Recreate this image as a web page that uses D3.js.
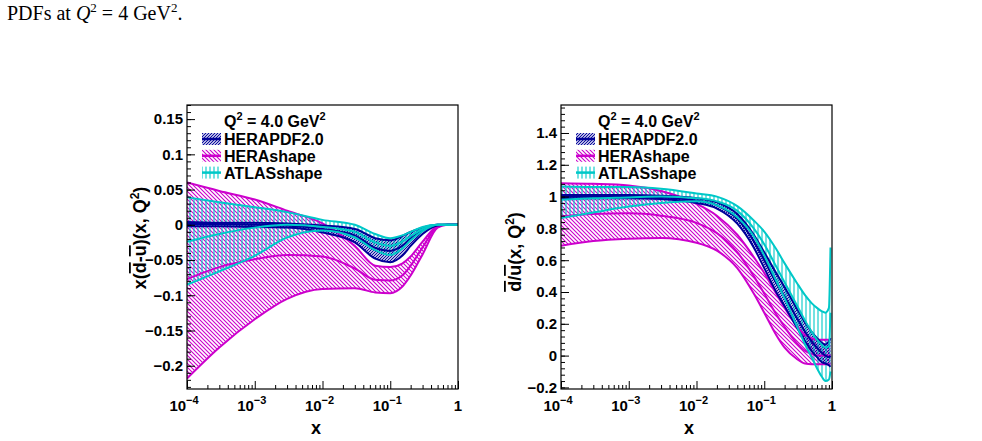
<!DOCTYPE html>
<html>
<head>
<meta charset="utf-8">
<script src="https://cdn.jsdelivr.net/npm/d3@7"></script>
<style>
  body { margin: 0; background: #fff; }
  svg { display: block; }
  text { font-family: "Liberation Sans", Arial, sans-serif; font-weight: bold; fill: #000; }
  .cap { font-family: "Liberation Serif", "Times New Roman", serif; font-weight: normal; }
</style>
</head>
<body>
<svg id="fig" width="982" height="441"></svg>
<script>
// ---- data ----
const legendLabels = ['HERAPDF2.0', 'HERAshape', 'ATLASshape'];
const decadeTicks = [1e-4, 1e-3, 1e-2, 1e-1, 1];
const decadeLabels = [['10', '\u22124'], ['10', '\u22123'], ['10', '\u22122'], ['10', '\u22121'], ['1', '']];

// left panel: x(dbar - ubar)
const xLeft = [1e-4, 3e-4, 1e-3, 3e-3, 1e-2, 3e-2, 0.06, 0.1, 0.15, 0.2, 0.3, 0.5, 0.7, 1];
const h20UpLeft  = [0.004, 0.003, 0.003, 0.002, -0.001, -0.006, -0.019, -0.022, -0.016, -0.010, -0.004, 0, 0, 0];
const h20CenLeft = [0.001, 0.001, 0.000, -0.001, -0.006, -0.015, -0.033, -0.037, -0.030, -0.020, -0.008, 0, 0, 0];
const h20LoLeft  = [-0.002, -0.002, -0.003, -0.004, -0.011, -0.025, -0.048, -0.053, -0.044, -0.030, -0.013, -0.001, 0, 0];
const hsUpLeft   = [0.060, 0.048, 0.036, 0.020, 0.002, -0.030, -0.058, -0.060, -0.055, -0.045, -0.024, -0.002, 0, 0];
const hsCenLeft  = [-0.077, -0.060, -0.049, -0.043, -0.045, -0.062, -0.078, -0.079, -0.072, -0.058, -0.032, -0.003, 0, 0];
const hsLoLeft   = [-0.218, -0.174, -0.134, -0.105, -0.091, -0.090, -0.096, -0.097, -0.088, -0.072, -0.042, -0.004, 0, 0];
const asUpLeft   = [0.039, 0.032, 0.025, 0.018, 0.007, 0.000, -0.013, -0.019, -0.015, -0.010, -0.003, 0, 0, 0];
const asCenLeft  = [-0.024, -0.013, -0.004, 0.000, -0.003, -0.010, -0.025, -0.030, -0.024, -0.016, -0.006, 0, 0, 0];
const asLoLeft   = [-0.085, -0.066, -0.044, -0.018, -0.008, -0.018, -0.036, -0.043, -0.034, -0.022, -0.009, 0, 0, 0];
const yTicksLeft = [-0.2, -0.15, -0.1, -0.05, 0, 0.05, 0.1, 0.15];

// right panel: dbar / ubar
const xRight = [1e-4, 3e-4, 1e-3, 3e-3, 1e-2, 2e-2, 0.04, 0.07, 0.1, 0.15, 0.2, 0.3, 0.4, 0.5, 0.6, 0.7, 0.8, 0.9, 0.95];
const h20UpRight  = [1.01, 1.01, 1.01, 1.005, 0.99, 0.965, 0.89, 0.76, 0.65, 0.52, 0.43, 0.30, 0.21, 0.15, 0.11, 0.08, 0.07, 0.09, 0.11];
const h20CenRight = [1.00, 1.00, 1.00, 0.995, 0.975, 0.945, 0.86, 0.72, 0.60, 0.46, 0.37, 0.24, 0.15, 0.09, 0.05, 0.02, 0.00, -0.01, 0.00];
const h20LoRight  = [0.99, 0.99, 0.99, 0.985, 0.96, 0.925, 0.83, 0.68, 0.55, 0.40, 0.31, 0.18, 0.09, 0.03, -0.01, -0.04, -0.05, -0.06, -0.07];
const hsUpRight   = [1.084, 1.08, 1.07, 1.035, 0.955, 0.88, 0.76, 0.62, 0.52, 0.39, 0.30, 0.19, 0.13, 0.11, 0.10, 0.10, 0.10, 0.10, 0.10];
const hsCenRight  = [0.875, 0.89, 0.895, 0.88, 0.835, 0.77, 0.65, 0.50, 0.39, 0.26, 0.18, 0.08, 0.03, 0.01, 0.00, 0.00, 0.00, 0.00, 0.00];
const hsLoRight   = [0.69, 0.72, 0.735, 0.74, 0.71, 0.66, 0.55, 0.39, 0.27, 0.13, 0.05, -0.02, -0.05, -0.055, -0.055, -0.055, -0.055, -0.055, -0.055];
const asUpRight   = [1.063, 1.06, 1.06, 1.05, 1.02, 1.00, 0.94, 0.85, 0.78, 0.67, 0.58, 0.46, 0.38, 0.33, 0.30, 0.28, 0.27, 0.30, 0.68];
const asCenRight  = [0.98, 0.99, 0.995, 1.0, 0.99, 0.97, 0.91, 0.80, 0.70, 0.56, 0.46, 0.32, 0.22, 0.15, 0.10, 0.07, 0.05, 0.06, 0.27];
const asLoRight   = [0.866, 0.90, 0.937, 0.96, 0.97, 0.945, 0.87, 0.75, 0.63, 0.47, 0.36, 0.19, 0.07, -0.01, -0.08, -0.13, -0.16, -0.15, -0.10];
const yTicksRight = [-0.2, 0, 0.2, 0.4, 0.6, 0.8, 1, 1.2, 1.4];

const colors = { h20: '#000099', hs: '#cc00cc', as: '#00c8c8' };

const svg = d3.select('#fig');

// hatch patterns (ROOT style fills)
const defs = svg.append('defs');
function hatch(id, color, size, d) {
  defs.append('pattern')
    .attr('id', id)
    .attr('patternUnits', 'userSpaceOnUse')
    .attr('width', size)
    .attr('height', size)
    .append('path')
    .attr('d', d)
    .attr('stroke', color)
    .attr('stroke-width', 1.1)
    .attr('fill', 'none');
}
hatch('hatchH20', colors.h20, 3, 'M-1,1 L1,-1 M0,3 L3,0 M2,4 L4,2');
hatch('hatchHS', colors.hs, 4, 'M0,0 L4,4 M-1,3 L1,5 M3,-1 L5,1');
hatch('hatchAS', colors.as, 4, 'M2,0 L2,4');

// caption
const cap = svg.append('text').attr('class', 'cap').attr('x', 7).attr('y', 20).style('font-size', '20px');
cap.append('tspan').text('PDFs at ');
cap.append('tspan').style('font-style', 'italic').text('Q');
cap.append('tspan').attr('dy', -8).style('font-size', '13px').text('2');
cap.append('tspan').attr('dy', 8).text(' = 4 GeV');
cap.append('tspan').attr('dy', -8).style('font-size', '13px').text('2');
cap.append('tspan').attr('dy', 8).text('.');

function drawPanel(cfg) {
  const x = d3.scaleLog().domain([1e-4, 1]).range([cfg.left, cfg.right]);
  const y = d3.scaleLinear().domain(cfg.yDomain).range([cfg.bottom, cfg.top]);
  const g = svg.append('g');

  const clipId = 'clip' + cfg.id;
  defs.append('clipPath').attr('id', clipId)
    .append('rect')
    .attr('x', cfg.left).attr('y', cfg.top)
    .attr('width', cfg.right - cfg.left).attr('height', cfg.bottom - cfg.top);

  const plot = g.append('g').attr('clip-path', `url(#${clipId})`);

  const area = d3.area()
    .x(d => x(d.x)).y0(d => y(d.lo)).y1(d => y(d.hi))
    .curve(d3.curveMonotoneX);
  const line = d3.line()
    .x(d => x(d.x)).y(d => y(d.v))
    .curve(d3.curveMonotoneX);

  // bands drawn magenta first, then blue, then cyan on top
  const drawOrder = [1, 0, 2];
  drawOrder.forEach(k => {
    const s = cfg.series[k];
    const band = cfg.xs.map((xv, i) => ({ x: xv, lo: s.lo[i], hi: s.up[i] }));
    plot.append('path')
      .datum(band)
      .attr('d', area)
      .attr('fill', `url(#${s.pattern})`)
      .attr('stroke', 'none');
  });
  drawOrder.forEach(k => {
    const s = cfg.series[k];
    [s.up, s.cen, s.lo].forEach(arr => {
      plot.append('path')
        .datum(cfg.xs.map((xv, i) => ({ x: xv, v: arr[i] })))
        .attr('d', line)
        .attr('fill', 'none')
        .attr('stroke', s.color)
        .attr('stroke-width', 2);
    });
  });

  // x axis ticks (inside the frame)
  const minorX = [];
  for (let e = -4; e < 0; e++) for (let m = 2; m <= 9; m++) minorX.push(m * Math.pow(10, e));
  g.append('g')
    .attr('transform', `translate(0,${cfg.bottom})`)
    .call(d3.axisBottom(x).tickValues(minorX).tickSize(-4).tickFormat(''))
    .call(a => a.select('.domain').remove());
  g.append('g')
    .attr('transform', `translate(0,${cfg.bottom})`)
    .call(d3.axisBottom(x).tickValues(decadeTicks).tickSize(-8).tickFormat(''))
    .call(a => a.select('.domain').remove());

  decadeTicks.forEach((t, i) => {
    const lab = g.append('text')
      .attr('x', x(t) + (i === 4 ? 0 : -3))
      .attr('y', cfg.bottom + 22)
      .attr('text-anchor', 'middle')
      .style('font-size', '15px');
    lab.append('tspan').text(decadeLabels[i][0]);
    if (decadeLabels[i][1]) {
      lab.append('tspan').attr('dy', -7).style('font-size', '11px').text(decadeLabels[i][1]);
    }
  });

  // y axis ticks
  const yMinor = d3.range(cfg.yDomain[0], cfg.yDomain[1], cfg.yMinorStep)
    .map(v => Math.round(v / cfg.yMinorStep) * cfg.yMinorStep)
    .filter(v => v >= cfg.yDomain[0] && v <= cfg.yDomain[1]);
  g.append('g')
    .attr('transform', `translate(${cfg.left},0)`)
    .call(d3.axisLeft(y).tickValues(yMinor).tickSize(-4).tickFormat(''))
    .call(a => a.select('.domain').remove());
  g.append('g')
    .attr('transform', `translate(${cfg.left},0)`)
    .call(d3.axisLeft(y).tickValues(cfg.yTicks).tickSize(-8).tickPadding(4)
      .tickFormat(v => (v < 0 ? '\u2212' : '') + d3.format('~g')(Math.abs(v))))
    .call(a => a.select('.domain').remove())
    .call(a => a.selectAll('text').style('font-size', '15px').style('font-family', '"Liberation Sans", Arial, sans-serif').style('font-weight', 'bold'));
  g.selectAll('.tick line').attr('stroke', '#000');

  // frame
  g.append('rect')
    .attr('x', cfg.left).attr('y', cfg.top)
    .attr('width', cfg.right - cfg.left).attr('height', cfg.bottom - cfg.top)
    .attr('fill', 'none').attr('stroke', '#000').attr('stroke-width', 1.2);

  // axis titles
  g.append('text')
    .attr('x', cfg.xTitleX).attr('y', 434)
    .attr('text-anchor', 'middle')
    .style('font-size', '18px')
    .text('x');

  const yt = g.append('text')
    .attr('transform', `translate(${cfg.yTitleX},${cfg.yTitleY}) rotate(-90)`)
    .attr('text-anchor', 'middle')
    .style('font-size', '18px');
  cfg.yTitle(yt);

  // legend
  const lg = g.append('g');
  const qt = lg.append('text').attr('x', cfg.legX).attr('y', 127).style('font-size', '16px');
  qt.append('tspan').text('Q');
  qt.append('tspan').attr('dy', -7).style('font-size', '11px').text('2');
  qt.append('tspan').attr('dy', 7).text(' = 4.0 GeV');
  qt.append('tspan').attr('dy', -7).style('font-size', '11px').text('2');

  cfg.series.forEach((s, i) => {
    const cy = 139 + i * 16.8;
    lg.append('rect')
      .attr('x', cfg.legX - 22).attr('y', cy - 6)
      .attr('width', 19).attr('height', 12)
      .attr('fill', `url(#${s.pattern})`);
    lg.append('line')
      .attr('x1', cfg.legX - 22).attr('x2', cfg.legX - 3)
      .attr('y1', cy).attr('y2', cy)
      .attr('stroke', s.color).attr('stroke-width', 2.5);
    lg.append('text')
      .attr('x', cfg.legX).attr('y', cy + 6)
      .style('font-size', '16px')
      .text(legendLabels[i]);
  });
}

drawPanel({
  id: 'L', left: 187, right: 458, top: 105, bottom: 389,
  yDomain: [-0.233, 0.170], yTicks: yTicksLeft, yMinorStep: 0.01,
  xs: xLeft,
  series: [
    { up: h20UpLeft, cen: h20CenLeft, lo: h20LoLeft, color: colors.h20, pattern: 'hatchH20' },
    { up: hsUpLeft, cen: hsCenLeft, lo: hsLoLeft, color: colors.hs, pattern: 'hatchHS' },
    { up: asUpLeft, cen: asCenLeft, lo: asLoLeft, color: colors.as, pattern: 'hatchAS' }
  ],
  legX: 224, xTitleX: 316, yTitleX: 146, yTitleY: 238,
  yTitle: t => {
    t.append('tspan').text('x(');
    t.append('tspan').style('text-decoration', 'overline').text('d');
    t.append('tspan').text('-');
    t.append('tspan').style('text-decoration', 'overline').text('u');
    t.append('tspan').text(')(x, Q');
    t.append('tspan').attr('dy', -7).style('font-size', '12px').text('2');
    t.append('tspan').attr('dy', 7).text(')');
  }
});

drawPanel({
  id: 'R', left: 561, right: 832, top: 105, bottom: 389,
  yDomain: [-0.21, 1.576], yTicks: yTicksRight, yMinorStep: 0.04,
  xs: xRight,
  series: [
    { up: h20UpRight, cen: h20CenRight, lo: h20LoRight, color: colors.h20, pattern: 'hatchH20' },
    { up: hsUpRight, cen: hsCenRight, lo: hsLoRight, color: colors.hs, pattern: 'hatchHS' },
    { up: asUpRight, cen: asCenRight, lo: asLoRight, color: colors.as, pattern: 'hatchAS' }
  ],
  legX: 598, xTitleX: 689, yTitleX: 521, yTitleY: 252,
  yTitle: t => {
    t.append('tspan').style('text-decoration', 'overline').text('d');
    t.append('tspan').text('/');
    t.append('tspan').style('text-decoration', 'overline').text('u');
    t.append('tspan').text('(x, Q');
    t.append('tspan').attr('dy', -7).style('font-size', '12px').text('2');
    t.append('tspan').attr('dy', 7).text(')');
  }
});
</script>
</body>
</html>
